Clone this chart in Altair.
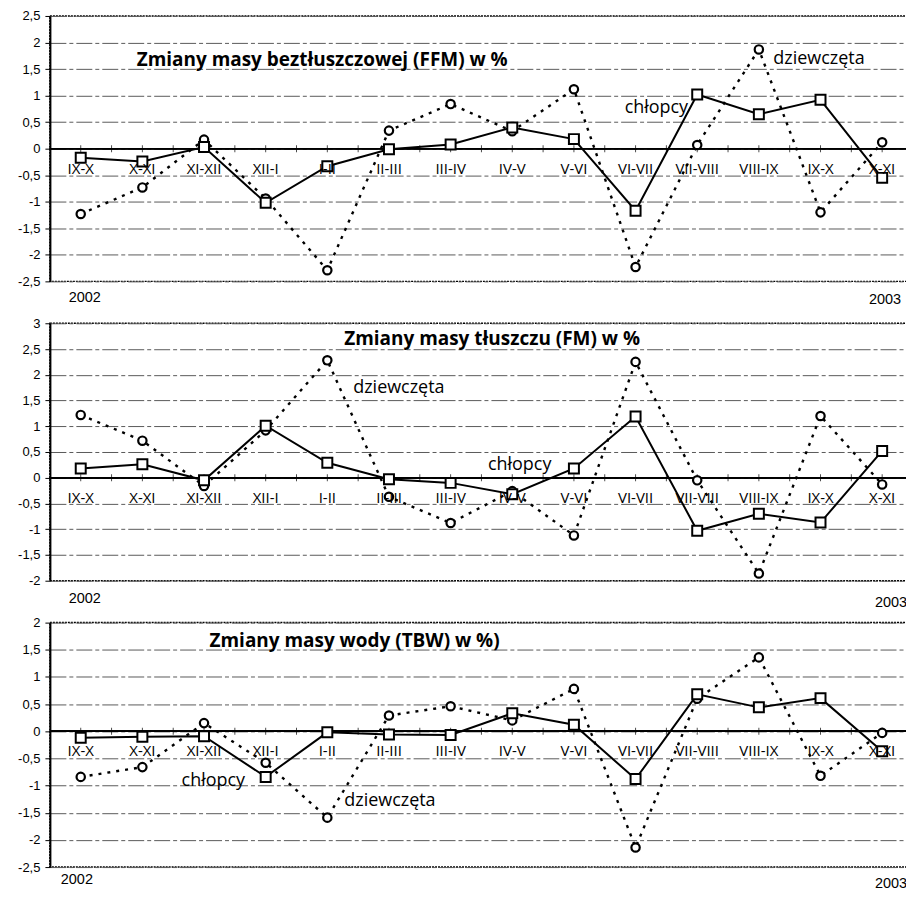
import altair as alt
import pandas as pd

categories = ["IX-X", "X-XI", "XI-XII", "XII-I", "I-II", "II-III", "III-IV",
              "IV-V", "V-VI", "VI-VII", "VII-VIII", "VIII-IX", "IX-X", "X-XI"]

ffm_boys = [-0.17, -0.24, 0.03, -1.02, -0.33, -0.01, 0.08, 0.40, 0.18, -1.17, 1.02, 0.65, 0.92, -0.55]
ffm_girls = [-1.23, -0.73, 0.17, -0.94, -2.29, 0.34, 0.84, 0.33, 1.12, -2.23, 0.07, 1.87, -1.2, 0.12]

fm_boys = [0.18, 0.26, -0.05, 1.01, 0.29, -0.03, -0.10, -0.32, 0.18, 1.19, -1.03, -0.70, -0.87, 0.52]
fm_girls = [1.22, 0.72, -0.16, 0.92, 2.28, -0.37, -0.88, -0.26, -1.12, 2.25, -0.05, -1.86, 1.2, -0.13]

tbw_boys = [-0.12, -0.10, -0.09, -0.84, -0.02, -0.06, -0.07, 0.33, 0.12, -0.88, 0.68, 0.44, 0.61, -0.37]
tbw_girls = [-0.84, -0.66, 0.15, -0.58, -1.59, 0.29, 0.46, 0.20, 0.78, -2.14, 0.60, 1.36, -0.82, -0.03]

titles = ["Zmiany masy beztłuszczowej (FFM) w %",
          "Zmiany masy tłuszczu (FM) w %",
          "Zmiany masy wody (TBW) w %)"]
series_names = ["chłopcy", "dziewczęta"]
years = ["2002", "2003"]

FONT = "Open Sans"
NUMFONT = "Liberation Sans"
W = 865


def text_layer(txt, x, y, size, weight="normal", align="left", font=FONT):
    return alt.Chart(pd.DataFrame({"t": [txt]})).mark_text(
        font=font, fontSize=size, fontWeight=weight, align=align,
        baseline="alphabetic", color="black"
    ).encode(x=alt.value(x), y=alt.value(y), text="t:N")


def panel(boys, girls, lo, hi, height, title, tpos, bpos, gpos, y2002, y2003):
    n = len(categories)
    df = pd.DataFrame({"i": list(range(n)), "cat": categories,
                       "boys": boys, "girls": girls, "zero": [0.0] * n})
    tdf = pd.DataFrame({"t": [k * 0.5 for k in range(0, 2 * n)], "zero": 0.0})
    steps = int(round((hi - lo) / 0.5))
    yticks = [round(lo + 0.5 * k, 2) for k in range(steps + 1)]
    xs = alt.Scale(domain=[-0.5, n - 0.5], nice=False, zero=False)
    ys = alt.Scale(domain=[lo, hi], nice=False, zero=False)
    X = alt.X("i:Q", scale=xs, axis=None)
    yaxis = alt.Axis(values=yticks, title=None, grid=True,
                     labelExpr="replace(toString(datum.value), '.', ',')")

    def Y(field):
        return alt.Y(field, type="quantitative", scale=ys, axis=yaxis, title=None)

    base = alt.Chart(df)

    gline = base.mark_line(color="black", strokeWidth=2.4, strokeDash=[3, 6]).encode(
        x=X, y=Y("girls"))
    zero = base.mark_rule(color="black", strokeWidth=1).encode(y=Y("zero"))
    ticks = alt.Chart(tdf).mark_tick(orient="vertical", size=7, thickness=1, color="black").encode(
        x=alt.X("t:Q", scale=xs, axis=None), y=Y("zero"))
    bline = base.mark_line(color="black", strokeWidth=2).encode(x=X, y=Y("boys"))
    circ = base.mark_point(shape="circle", size=70, filled=True, fill="white",
                           stroke="black", strokeWidth=2.2, opacity=1).encode(
        x=X, y=Y("girls"))
    sq = base.mark_point(shape="square", size=100, filled=True, fill="white",
                         stroke="black", strokeWidth=2, opacity=1).encode(
        x=X, y=Y("boys"))
    cats = base.mark_text(font=FONT, fontSize=15, dy=25, baseline="alphabetic",
                          color="black").encode(x=X, y=Y("zero"), text="cat:N")

    layers = [gline, zero, ticks, bline, circ, sq, cats,
              text_layer(title, tpos[0], tpos[1], 19, "bold"),
              text_layer(series_names[0], bpos[0], bpos[1], 18),
              text_layer(series_names[1], gpos[0], gpos[1], 18),
              text_layer(years[0], y2002[0], y2002[1], 14.5, align="center", font=NUMFONT),
              text_layer(years[1], y2003[0], y2003[1], 14.5, align="center", font=NUMFONT)]
    return alt.layer(*layers).properties(width=W, height=height)


p1 = panel(ffm_boys, ffm_girls, -2.5, 2.5, 266, titles[0],
           (87, 50), (576, 97), (725, 48), (35, 287), (837, 289))
p2 = panel(fm_boys, fm_girls, -2.0, 3.0, 258, titles[1],
           (295, 22), (439, 147), (304, 70), (35, 280), (843, 284))
p3 = panel(tbw_boys, tbw_girls, -2.5, 2.0, 245, titles[2],
           (160, 24), (132, 164), (295, 184), (27, 262), (843, 266))

chart = alt.vconcat(p1, p2, p3, spacing=42, bounds="flush").properties(
    padding={"left": 8, "top": 0, "right": -9, "bottom": -2}
).configure_view(
    stroke="black", strokeDash=[2, 1], strokeWidth=1.5
).configure_axis(
    labelFont=NUMFONT, labelFontSize=13, labelColor="black",
    tickColor="black", tickSize=5, tickWidth=1, labelPadding=5,
    domainColor="black", domainWidth=2,
    gridColor="#5a5a5a", gridDash=[16, 3, 4, 3], gridWidth=1
)

chart.save("out.html", embed_options={"renderer": "svg", "actions": False})
